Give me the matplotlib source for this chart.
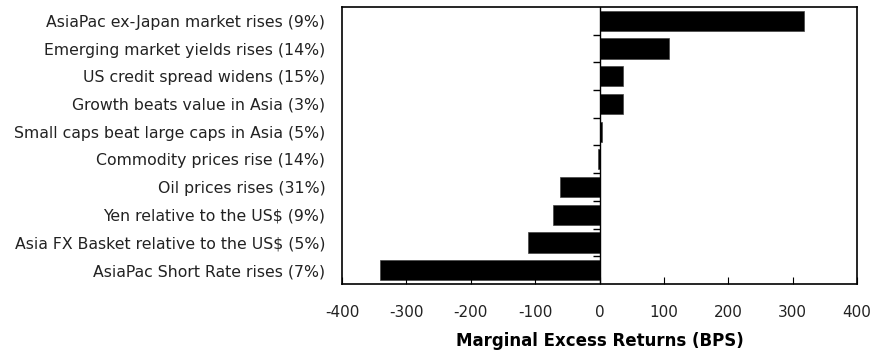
import matplotlib
matplotlib.use("Agg")
import matplotlib.pyplot as plt
import numpy as np

# Datos (de arriba hacia abajo)
etiquetas = [
    "AsiaPac ex-Japan market rises (9%)",
    "Emerging market yields rises (14%)",
    "US credit spread widens (15%)",
    "Growth beats value in Asia (3%)",
    "Small caps beat large caps in Asia (5%)",
    "Commodity prices rise (14%)",
    "Oil prices rises (31%)",
    "Yen relative to the US$ (9%)",
    "Asia FX Basket relative to the US$ (5%)",
    "AsiaPac Short Rate rises (7%)",
]
retornos = [318, 108, 36, 36, 3, -3, -62, -73, -111, -341]
ticks_x = [-400, -300, -200, -100, 0, 100, 200, 300, 400]

plt.rcParams['font.family'] = ['DejaVu Sans']

fig = plt.figure(figsize=(8.84, 3.51), dpi=100)
ax = fig.add_axes([0.387, 0.191, 0.5825, 0.789])

n = len(etiquetas)
pos = np.arange(n)
ax.barh(pos, retornos, height=0.73, color='black', edgecolor='#444444', linewidth=0.5)

ax.set_ylim(n - 0.5, -0.5)
ax.set_xlim(ticks_x[0], ticks_x[-1])
ax.set_xticks(ticks_x)
ax.set_xticklabels([str(t) for t in ticks_x], fontsize=11, color='#222222')
ax.set_yticks(pos)
ax.set_yticklabels(etiquetas, fontsize=11.3, color='#222222')
ax.tick_params(axis='y', length=0, pad=12)
ax.tick_params(axis='x', direction='in', length=5, pad=15)

# linea vertical en cero con marcas entre categorias
ax.axvline(0, color='black', linewidth=1)
ax.plot(np.zeros(n - 1), pos[:-1] + 0.5, ls='none', marker=0, ms=5,
        color='black', mew=1)

for s in ax.spines.values():
    s.set_linewidth(1.2)

ax.set_xlabel('Marginal Excess Returns (BPS)', fontsize=12, fontweight='bold',
              labelpad=9)

fig.savefig('out.png', dpi=100)
